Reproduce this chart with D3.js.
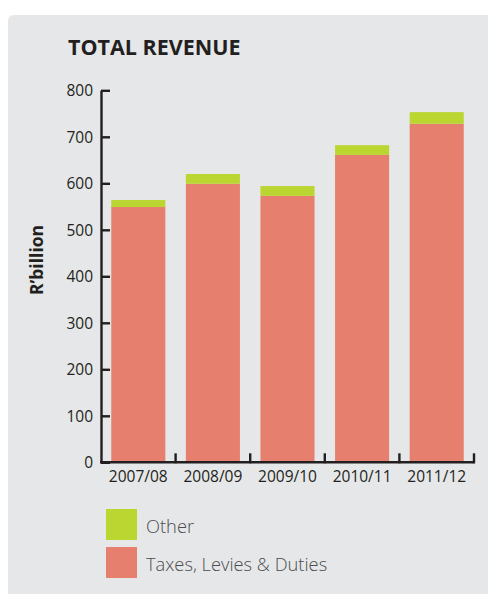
<!DOCTYPE html>
<html>
<head>
<meta charset="utf-8">
<script src="https://cdn.jsdelivr.net/npm/d3@7"></script>
<style>
  html, body { margin: 0; padding: 0; background: #ffffff; }
  svg { display: block; }
</style>
</head>
<body>
<svg id="chart" width="488" height="594"></svg>
<script>
// Total revenue, R billion, by fiscal year
const years = ["2007/08", "2008/09", "2009/10", "2010/11", "2011/12"];
const taxes = [549, 599, 573, 661, 728];
const other = [15, 21, 21, 21, 25];
const yTicks = [0, 100, 200, 300, 400, 500, 600, 700, 800];
const seriesNames = ["Other", "Taxes, Levies & Duties"];
const seriesColors = ["#bbd531", "#e67f6e"];

const font = "'Open Sans', 'Noto Sans', sans-serif";
const ink = "#231f20";

const svg = d3.select("#chart");

// Grey panel with a rounded top-left corner
svg.append("path")
  .attr("d", "M8,21 Q8,15 14,15 L488,15 L488,594 L8,594 Z")
  .attr("fill", "#e6e7e8");

svg.append("text")
  .attr("x", 68).attr("y", 55)
  .attr("font-family", font).attr("font-weight", 700)
  .attr("font-size", 21.5).attr("fill", ink)
  .text("TOTAL REVENUE");

const x = d3.scaleBand()
  .domain(years)
  .range([101, 474])
  .paddingInner(0.275)
  .paddingOuter(0.1375);

const y = d3.scaleLinear().domain([0, 800]).range([462.3, 90.3]);

const rows = years.map((yr, i) => ({ year: yr, taxes: taxes[i], other: other[i] }));
const stack = d3.stack().keys(["taxes", "other"])(rows);
const colorOf = { taxes: seriesColors[1], other: seriesColors[0] };

svg.append("g").selectAll("g")
  .data(stack)
  .join("g")
  .attr("fill", d => colorOf[d.key])
  .selectAll("rect")
  .data(d => d)
  .join("rect")
  .attr("x", d => x(d.data.year))
  .attr("width", x.bandwidth())
  .attr("y", d => y(d[1]))
  .attr("height", d => y(d[0]) - y(d[1]));

// Y axis: ticks point inward
const yAxis = svg.append("g")
  .attr("transform", "translate(101,0)")
  .call(d3.axisRight(y).tickValues(yTicks).tickSize(9).tickSizeOuter(0).tickFormat(d3.format("d")));
yAxis.select(".domain").attr("stroke", ink).attr("stroke-width", 2.4);
yAxis.selectAll(".tick line").attr("stroke", ink).attr("stroke-width", 2.4);
yAxis.selectAll(".tick text")
  .attr("x", -8).attr("dy", "0.35em")
  .attr("text-anchor", "end")
  .attr("font-family", font).attr("font-size", 15.5)
  .attr("fill", ink);

// X axis: baseline with upward ticks on band boundaries
const xAxisG = svg.append("g").attr("transform", `translate(0,${y(0)})`);
xAxisG.append("line")
  .attr("x1", 100).attr("x2", 474.5)
  .attr("stroke", ink).attr("stroke-width", 2.4);
const boundaries = years.map(yr => x(yr) + x.bandwidth() + x.step() * x.paddingInner() / 2);
xAxisG.selectAll("line.tick")
  .data(boundaries)
  .join("line")
  .attr("class", "tick")
  .attr("x1", d => d).attr("x2", d => d)
  .attr("y1", 1).attr("y2", -9)
  .attr("stroke", ink).attr("stroke-width", 2.4);
xAxisG.selectAll("text")
  .data(years)
  .join("text")
  .attr("x", d => x(d) + x.bandwidth() / 2)
  .attr("y", 19.5)
  .attr("text-anchor", "middle")
  .attr("font-family", font).attr("font-size", 15.5)
  .attr("fill", ink)
  .text(d => d);

// Y axis title
svg.append("text")
  .attr("transform", "translate(43,260) rotate(-90)")
  .attr("text-anchor", "middle")
  .attr("font-family", font).attr("font-weight", 700)
  .attr("font-size", 17.5).attr("fill", ink)
  .text("R\u2019billion");

// Legend
const legend = svg.append("g").selectAll("g")
  .data(seriesNames)
  .join("g")
  .attr("transform", (d, i) => `translate(106,${509 + i * 38})`);
legend.append("rect")
  .attr("width", 31).attr("height", 31)
  .attr("fill", (d, i) => seriesColors[i]);
legend.append("text")
  .attr("x", 40).attr("y", 24)
  .attr("font-family", font).attr("font-weight", 300)
  .attr("font-size", 18.3).attr("fill", "#4d4d4f")
  .text(d => d);
</script>
</body>
</html>
